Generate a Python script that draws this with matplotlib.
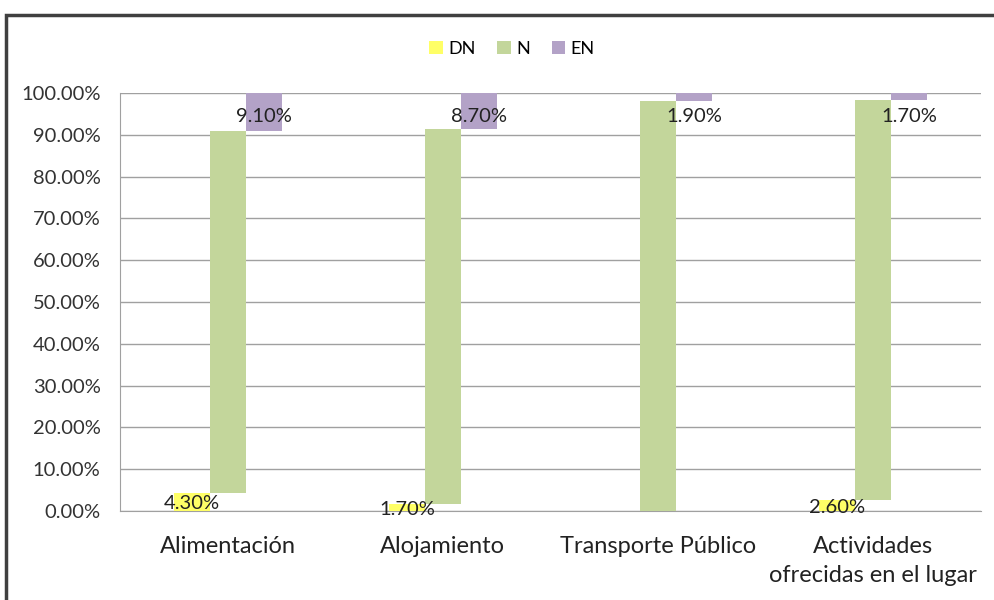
import matplotlib
matplotlib.use('Agg')
import matplotlib.pyplot as plt
from matplotlib.patches import Rectangle
import numpy as np

# --- Data ---
CATEGORIES = ['Alimentación', 'Alojamiento', 'Transporte Público',
              'Actividades\nofrecidas en el lugar']
DN = [4.3, 1.7, 0.0, 2.6]
EN = [9.1, 8.7, 1.9, 1.7]
N = [100 - d - e for d, e in zip(DN, EN)]
Y_TICKS = [0, 10, 20, 30, 40, 50, 60, 70, 80, 90, 100]

# --- Style ---
COL_DN = '#FFFF66'
COL_N = '#C3D69B'
COL_EN = '#B3A2C7'
GRID = '#A0A0A0'
plt.rcParams['font.family'] = ['Lato', 'DejaVu Sans']

fig = plt.figure(figsize=(9.95, 6), dpi=100)
ax = fig.add_axes([120 / 995, 1 - 511 / 600, 861 / 995, 418 / 600])

# chart outer frame
fig.patches.append(Rectangle((6 / 995, -0.1), 1.2, 1 - 15 / 600 + 0.1,
                             transform=fig.transFigure, fill=False,
                             edgecolor='#404040', linewidth=2.5))

x = np.arange(len(CATEGORIES))
w = 0.167
dn = np.array(DN)
n = np.array(N)
en = np.array(EN)

ax.bar(x - w, dn, w, color=COL_DN, label='DN', zorder=3)
ax.bar(x, n, w, bottom=dn, color=COL_N, label='N', zorder=3)
ax.bar(x + w, en, w, bottom=dn + n, color=COL_EN, label='EN', zorder=3)

# data labels (DN and EN only)
for i in range(len(CATEGORIES)):
    if dn[i] > 0:
        ax.text(x[i] - w, dn[i] / 2 - 0.4, f'{dn[i]:.2f}%', ha='center',
                va='center', fontsize=14.5, color='#222222', zorder=4)
    ax.text(x[i] + w, dn[i] + n[i] + en[i] - 5.7, f'{en[i]:.2f}%',
            ha='center', va='center', fontsize=14.5, color='#222222', zorder=4)

ax.set_xlim(-0.5, len(CATEGORIES) - 0.5)
ax.set_ylim(0, 100)
ax.set_yticks(Y_TICKS)
ax.set_yticklabels([f'{t:.2f}%' for t in Y_TICKS], fontsize=14.5, color='#333333')
ax.set_xticks(x)
ax.set_xticklabels(CATEGORIES, fontsize=17, color='#222222', linespacing=1.45)
ax.tick_params(axis='y', length=0, pad=14)
ax.tick_params(axis='x', length=0, pad=18)
ax.grid(axis='y', color=GRID, linewidth=1, zorder=0)
for s in ['top', 'right']:
    ax.spines[s].set_visible(False)
for s in ['left', 'bottom']:
    ax.spines[s].set_color(GRID)

ax.legend(loc='center', bbox_to_anchor=(512 / 995, 1 - 49 / 600),
          bbox_transform=fig.transFigure, ncol=3, frameon=False,
          fontsize=13, handlelength=0.75, handleheight=0.75,
          handletextpad=0.3, columnspacing=1.2)

fig.savefig('out.png', dpi=100)
